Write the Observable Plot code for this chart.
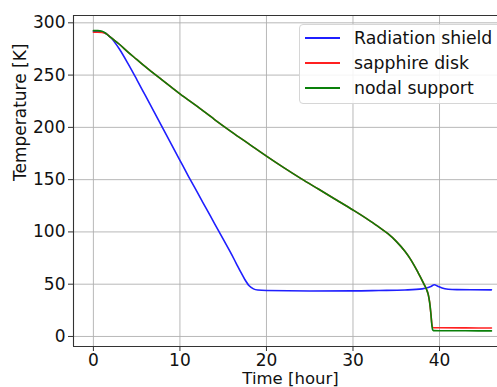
<!DOCTYPE html>
<html>
<head>
<meta charset="utf-8">
<script src="https://cdn.jsdelivr.net/npm/d3@7"></script>
<script src="https://cdn.jsdelivr.net/npm/@observablehq/plot@0.6"></script>
<style>
  html, body { margin: 0; padding: 0; background: #fff; overflow: hidden; }
  #wrap { position: relative; width: 497px; height: 387px; overflow: hidden; font-family: "DejaVu Sans", sans-serif; }
  #legend { position: absolute; left: 299px; top: 24px; width: 220px; height: 80px;
    border: 1px solid #d6d6d6; border-radius: 4px; background: rgba(255,255,255,0.85); box-sizing: border-box; }
  .item { position: absolute; left: 0; height: 20px; display: flex; align-items: center; font-size: 17.3px; color: #111; white-space: nowrap; }
  .swatch { display: inline-block; width: 35px; height: 2px; margin-left: 5px; margin-right: 14px; }
</style>
</head>
<body>
<div id="wrap"><div id="chart"></div><div id="legend"></div></div>
<script>
const seriesNames = ["Radiation shield", "sapphire disk", "nodal support"];
const seriesColors = ["#1f1fff", "#ff2020", "#0a800a"];
const xTicks = [0, 10, 20, 30, 40];
const yTicks = [0, 50, 100, 150, 200, 250, 300];

const shieldTime = [0, 0.5, 1, 1.5, 2, 3, 4, 5, 6, 7, 8, 9, 10, 11, 12, 13, 14, 15, 16, 16.5, 17, 17.5, 18, 18.5, 19, 20, 25, 30, 33, 36, 38, 38.6, 39, 39.4, 39.8, 40.3, 41, 42, 46];
const shieldTemp = [292, 292, 291.5, 289.5, 286, 275, 261, 246, 230.5, 215, 199.5, 184, 168.5, 153, 138, 123, 108, 93, 78, 70, 62, 54.5, 48.5, 45.5, 44.4, 43.9, 43.5, 43.6, 44, 44.5, 45.5, 46.5, 47.8, 49.4, 48, 46.3, 45.2, 44.8, 44.6];

const diskTime = [0, 0.5, 1, 1.5, 2, 3, 4, 5, 6, 7, 8, 9, 10, 12, 14, 16, 18, 20, 22, 24, 26, 28, 30, 31, 32, 33, 34, 35, 36, 36.6, 37, 37.5, 38, 38.2, 38.5, 38.7, 38.85, 39, 39.1, 39.2, 39.3, 40, 43, 46];
const diskTemp = [291, 291, 290.8, 289.5, 286, 279.5, 272, 265, 258, 251.5, 245, 238.5, 232, 220, 207.5, 195.5, 184, 172.5, 161.5, 151, 141, 131, 121, 115.8, 110.3, 104.6, 98.5, 91, 81.5, 74.5, 69, 61.5, 53.5, 50, 45, 40, 33, 22, 13, 8.8, 8.4, 8.3, 8.2, 8.1];

const supportTime = [0, 0.5, 1, 1.5, 2, 3, 4, 5, 6, 7, 8, 9, 10, 12, 14, 16, 18, 20, 22, 24, 26, 28, 30, 31, 32, 33, 34, 35, 36, 36.6, 37, 37.5, 38, 38.2, 38.5, 38.7, 38.85, 39, 39.1, 39.2, 39.3, 40, 43, 46];
const supportTemp = [292.5, 292.5, 292, 289.5, 286, 279.5, 272, 265, 258, 251.5, 245, 238.5, 232, 220, 207.5, 195.5, 184, 172.5, 161.5, 151, 141, 131, 121, 115.8, 110.3, 104.6, 98.5, 91, 81.5, 74.5, 69, 61.5, 53.5, 50, 45, 40, 33, 22, 12, 6.5, 5.6, 5.5, 5.4, 5.3];

const toRows = (t, v) => t.map((x, i) => ({t: x, v: v[i]}));
const shield = toRows(shieldTime, shieldTemp);
const disk = toRows(diskTime, diskTemp);
const support = toRows(supportTime, supportTemp);

const xDom = [-2.3, 46.7];
const yDom = [-9.6, 307];

const chart = Plot.plot({
  width: 497,
  height: 387,
  marginLeft: 73,
  marginRight: 0,
  marginTop: 15,
  marginBottom: 41,
  style: {fontFamily: "DejaVu Sans, sans-serif", fontSize: "17px", color: "#111", background: "#fff"},
  x: {domain: xDom},
  y: {domain: yDom},
  marks: [
    Plot.gridX(xTicks, {stroke: "#b0b0b0", strokeOpacity: 1, strokeWidth: 0.9}),
    Plot.gridY(yTicks, {stroke: "#b0b0b0", strokeOpacity: 1, strokeWidth: 0.9}),
    Plot.line(shield, {x: "t", y: "v", stroke: seriesColors[0], strokeWidth: 1.6, curve: "monotone-x"}),
    Plot.line(disk, {x: "t", y: "v", stroke: seriesColors[1], strokeWidth: 1.6, curve: "monotone-x"}),
    Plot.line(support, {x: "t", y: "v", stroke: seriesColors[2], strokeWidth: 1.6, curve: "monotone-x"}),
    Plot.ruleX([xDom[0]], {stroke: "#333", strokeWidth: 1.1}),
    Plot.ruleY([yDom[0]], {stroke: "#333", strokeWidth: 1.1}),
    Plot.ruleY([yDom[1]], {stroke: "#333", strokeWidth: 1.1}),
    Plot.axisX(xTicks, {tickSize: 5, tickPadding: 2, label: null, stroke: "#333"}),
    Plot.axisY(yTicks, {tickSize: 5, tickPadding: 3, label: null, stroke: "#333"}),
    Plot.text(["Time [hour]"], {frameAnchor: "bottom", lineAnchor: "middle", dy: 32, dx: 5, fontSize: 16.5, fill: "#111"}),
    Plot.text(["Temperature [K]"], {frameAnchor: "left", lineAnchor: "middle", dx: -53, rotate: -90, fontSize: 17, fill: "#111"})
  ]
});
document.getElementById("chart").appendChild(chart);

const legend = document.getElementById("legend");
const rowTops = [3, 28, 53];
seriesNames.forEach((name, i) => {
  const item = document.createElement("div");
  item.className = "item";
  item.style.top = rowTops[i] + "px";
  const sw = document.createElement("span");
  sw.className = "swatch";
  sw.style.background = seriesColors[i];
  const label = document.createElement("span");
  label.textContent = name;
  item.appendChild(sw);
  item.appendChild(label);
  legend.appendChild(item);
});
</script>
</body>
</html>
